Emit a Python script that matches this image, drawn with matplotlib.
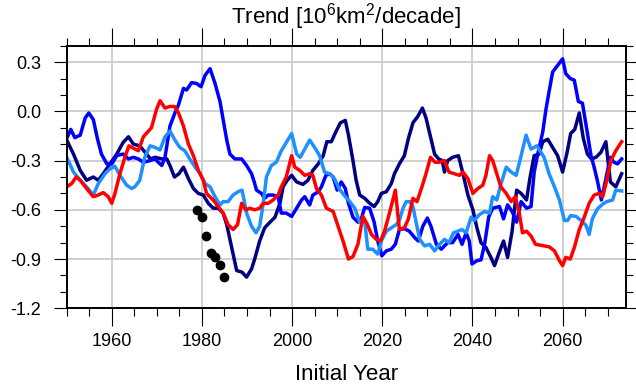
import matplotlib
matplotlib.use('Agg')
import matplotlib.pyplot as plt
from matplotlib.ticker import MultipleLocator, FormatStrFormatter

plt.rcParams['font.family'] = ['Liberation Sans', 'DejaVu Sans']
plt.rcParams['mathtext.default'] = 'regular'
plt.rcParams['axes.unicode_minus'] = False

# ---- data (initial year, trend) ----
navy_years = [1950, 1951.5, 1953, 1954.4, 1955.9, 1957, 1958.1, 1959.6, 1961.1, 1962.5,
              1963.7, 1964.8, 1966.2, 1967.7, 1968.6, 1969.6, 1971.1, 1972.2, 1972.9, 1973.9,
              1974.9, 1975.9, 1977, 1978.1, 1979.2, 1980.3, 1981.4, 1982.5, 1983.6, 1984.7,
              1985.5, 1986.6, 1987.7, 1988.9, 1989.9, 1991, 1991.7, 1992.8, 1993.9, 1995.1,
              1996.2, 1997.3, 1998, 1998.9, 1999.9, 2001, 2002.4, 2003.5, 2004.6, 2005.8,
              2006.9, 2007.7, 2008.7, 2009.7, 2010.7, 2011.8, 2012.5, 2013.5, 2014.2, 2015,
              2016.1, 2017.2, 2018.2, 2019, 2019.8, 2020.9, 2022, 2022.7, 2023.8, 2024.9,
              2025.8, 2026.8, 2027.9, 2028.9, 2029.7, 2030.7, 2031.6, 2032.5, 2033.3, 2033.8,
              2034.5, 2035.6, 2036.9, 2037.9, 2039, 2040.1, 2041, 2041.9, 2043, 2044.1,
              2044.9, 2045.8, 2046.9, 2047.8, 2048.8, 2049.8, 2050.8, 2052, 2052.8, 2053.7,
              2054.8, 2055.6, 2056.7, 2057.8, 2058.9, 2060, 2061, 2061.8, 2062.7, 2063.7,
              2064.6, 2065.5, 2066.4, 2067.4, 2068.5, 2069.6, 2070.6, 2071.8, 2073.1]
navy_vals = [-0.175, -0.26, -0.36, -0.42, -0.40, -0.42, -0.38, -0.32, -0.26, -0.19,
             -0.155, -0.20, -0.21, -0.26, -0.29, -0.28, -0.29, -0.29, -0.33, -0.40,
             -0.38, -0.34, -0.41, -0.47, -0.50, -0.51, -0.56, -0.59, -0.59, -0.62,
             -0.69, -0.83, -0.97, -0.98, -1.01, -0.96, -0.90, -0.79, -0.71, -0.675,
             -0.645, -0.56, -0.46, -0.42, -0.39, -0.43, -0.445, -0.42, -0.36, -0.32,
             -0.27, -0.185, -0.185, -0.125, -0.07, -0.055, -0.145, -0.30, -0.42, -0.51,
             -0.53, -0.56, -0.58, -0.55, -0.50, -0.49, -0.44, -0.38, -0.32, -0.27,
             -0.165, -0.07, -0.03, 0.02, -0.04, -0.155, -0.26, -0.29, -0.30, -0.37,
             -0.30, -0.28, -0.27, -0.38, -0.51, -0.60, -0.71, -0.80, -0.83, -0.89,
             -0.94, -0.87, -0.79, -0.89, -0.73, -0.48, -0.50, -0.54, -0.40, -0.27,
             -0.26, -0.185, -0.17, -0.22, -0.27, -0.37, -0.25, -0.135, -0.11, -0.01,
             -0.165, -0.26, -0.29, -0.28, -0.25, -0.185, -0.43, -0.46, -0.38]

blue_years = [1950, 1950.9, 1951.8, 1953, 1954.1, 1954.9, 1955.9, 1956.8, 1957.7, 1958.9,
              1960, 1961.1, 1962.5, 1963.7, 1964.8, 1965.9, 1967, 1968.5, 1969.6, 1970.3,
              1971.1, 1971.8, 1972.9, 1974, 1974.8, 1975.9, 1976.6, 1977.7, 1978.8, 1979.8,
              1980.7, 1981.8, 1982.9, 1984, 1984.7, 1985.5, 1986.2, 1987.3, 1988.8, 1989.9,
              1991, 1991.6, 1992.1, 1993.2, 1993.9, 1994.7, 1995.8, 1996.9, 1997.6, 1998.7,
              1999.9, 2001, 2002.1, 2002.8, 2003.9, 2004.6, 2005.8, 2006.5, 2007.5, 2008.3,
              2009.1, 2010, 2010.9, 2011.8, 2012.5, 2013.5, 2014.6, 2015.4, 2016.1, 2017.2,
              2018.2, 2019, 2019.9, 2020.9, 2022, 2022.9, 2023.8, 2024.9, 2026, 2027.2,
              2028, 2029, 2030, 2030.8, 2032, 2033.1, 2034.5, 2035.6, 2036.8, 2037.7,
              2038.6, 2039.3, 2039.9, 2041, 2041.9, 2042.7, 2043.6, 2044.5, 2046, 2046.9,
              2047.8, 2048.8, 2049.8, 2050.8, 2052, 2053, 2053.7, 2054.5, 2055.6, 2056.3,
              2057, 2057.8, 2058.9, 2060, 2060.7, 2061.7, 2062.6, 2063.5, 2064.4, 2065.4,
              2066.3, 2067, 2067.7, 2068.6, 2069.6, 2070.6, 2071.4, 2072.2, 2073.1]
blue_vals = [-0.165, -0.11, -0.16, -0.145, -0.04, -0.01, -0.05, -0.165, -0.26, -0.32,
             -0.32, -0.27, -0.26, -0.29, -0.28, -0.29, -0.31, -0.30, -0.29, -0.31,
             -0.33, -0.28, -0.09, -0.01, 0.04, 0.14, 0.13, 0.175, 0.17, 0.15,
             0.22, 0.26, 0.17, 0.06, -0.05, -0.175, -0.26, -0.29, -0.29, -0.33,
             -0.38, -0.43, -0.48, -0.50, -0.53, -0.51, -0.51, -0.52, -0.62, -0.62,
             -0.64, -0.59, -0.54, -0.52, -0.57, -0.51, -0.49, -0.46, -0.39, -0.38,
             -0.40, -0.48, -0.43, -0.47, -0.56, -0.645, -0.675, -0.65, -0.585, -0.59,
             -0.675, -0.79, -0.88, -0.85, -0.84, -0.81, -0.72, -0.715, -0.73, -0.77,
             -0.79, -0.70, -0.65, -0.70, -0.81, -0.84, -0.80, -0.80, -0.75, -0.81,
             -0.74, -0.79, -0.93, -0.91, -0.905, -0.81, -0.645, -0.59, -0.58, -0.655,
             -0.57, -0.61, -0.675, -0.55, -0.59, -0.58, -0.37, -0.26, -0.125, 0.01,
             0.12, 0.24, 0.28, 0.32, 0.23, 0.20, 0.19, 0.06, 0.05, -0.115,
             -0.27, -0.34, -0.42, -0.54, -0.41, -0.28, -0.31, -0.32, -0.29]

light_years = [1950, 1951.5, 1953, 1954.4, 1955.9, 1957, 1958.5, 1959.6, 1960.7, 1961.8,
               1963.3, 1964.4, 1965.1, 1966.2, 1967.3, 1968.5, 1969.6, 1970.7, 1971.8, 1972.9,
               1974, 1975.1, 1976.2, 1977.3, 1978.5, 1979.6, 1980.7, 1981.8, 1982.9, 1984,
               1984.7, 1985.8, 1986.9, 1988, 1988.9, 1989.9, 1991, 1992, 1992.8, 1993.6,
               1994.3, 1995.4, 1996.5, 1997.6, 1998.7, 1999.9, 2001, 2001.8, 2002.8, 2003.9,
               2005, 2006.1, 2007.2, 2008.3, 2009.4, 2010.4, 2011.5, 2012.8, 2013.9, 2015,
               2016.1, 2016.8, 2017.9, 2019, 2019.8, 2020.9, 2022, 2023.1, 2023.8, 2024.6,
               2025.3, 2026.1, 2026.8, 2027.5, 2028.3, 2029.4, 2030.5, 2031.6, 2032.7, 2033.8,
               2034.8, 2035.8, 2036.8, 2037.7, 2038.6, 2039.7, 2040.4, 2041.5, 2042.7, 2043.8,
               2044.5, 2045.4, 2046.3, 2047.5, 2048.6, 2049.7, 2050.8, 2051.9, 2053, 2054.3,
               2055.9, 2057, 2058.2, 2059.3, 2060.4, 2061.1, 2061.8, 2063, 2064.1, 2065.2,
               2065.9, 2066.6, 2067.7, 2068.9, 2069.8, 2071.1, 2071.8, 2073.1]
light_vals = [-0.28, -0.37, -0.42, -0.46, -0.51, -0.44, -0.38, -0.35, -0.335, -0.39,
              -0.45, -0.47, -0.46, -0.42, -0.28, -0.21, -0.22, -0.235, -0.155, -0.12,
              -0.175, -0.22, -0.24, -0.29, -0.34, -0.38, -0.44, -0.46, -0.52, -0.57,
              -0.55, -0.55, -0.51, -0.49, -0.48, -0.62, -0.70, -0.74, -0.70, -0.56,
              -0.40, -0.33, -0.31, -0.24, -0.19, -0.135, -0.26, -0.28, -0.23, -0.175,
              -0.22, -0.27, -0.37, -0.38, -0.41, -0.47, -0.51, -0.55, -0.59, -0.675,
              -0.67, -0.84, -0.84, -0.87, -0.79, -0.73, -0.71, -0.69, -0.665, -0.59,
              -0.55, -0.55, -0.58, -0.675, -0.78, -0.82, -0.81, -0.85, -0.81, -0.78,
              -0.80, -0.74, -0.73, -0.72, -0.74, -0.645, -0.665, -0.63, -0.61, -0.62,
              -0.52, -0.54, -0.445, -0.34, -0.37, -0.39, -0.27, -0.145, -0.23, -0.21,
              -0.28, -0.38, -0.46, -0.54, -0.665, -0.665, -0.635, -0.64, -0.665, -0.695,
              -0.75, -0.655, -0.595, -0.565, -0.55, -0.54, -0.48, -0.485]

red_years = [1950, 1951.1, 1952.1, 1953, 1954.4, 1955.9, 1957, 1958.1, 1959.2, 1960,
             1960.7, 1961.8, 1962.9, 1963.8, 1964.8, 1965.9, 1967, 1968.8, 1969.9, 1970.7,
             1971.8, 1972.9, 1973.9, 1974.8, 1975.9, 1977, 1978.1, 1979.2, 1980.3, 1981,
             1982.5, 1983.6, 1984.7, 1985.8, 1986.9, 1987.9, 1988.8, 1989.7, 1990.6, 1991.7,
             1992.8, 1993.6, 1994.7, 1995.8, 1996.9, 1997.6, 1998.7, 1999.9, 2000.6, 2001.7,
             2002.8, 2003.9, 2004.6, 2005.4, 2006.5, 2007.6, 2009.1, 2010.2, 2011.3, 2012.5,
             2013.5, 2014.6, 2015.7, 2016.7, 2017.6, 2018.7, 2019.6, 2020.5, 2021.6, 2022.9,
             2023.8, 2024.9, 2025.8, 2026.8, 2027.7, 2028.8, 2029.7, 2030.7, 2031.7, 2032.7,
             2033.8, 2034.8, 2036, 2037.1, 2037.9, 2039, 2040.1, 2041.2, 2042.3, 2043,
             2043.8, 2044.5, 2045.4, 2046.3, 2047.5, 2048.6, 2049.5, 2050.4, 2051.1, 2052,
             2053, 2054, 2055.9, 2057, 2058.2, 2059.3, 2060, 2060.7, 2061.7, 2062.6,
             2063.7, 2064.8, 2065.9, 2067, 2068.1, 2068.9, 2069.8, 2070.7, 2071.8, 2073.1]
red_vals = [-0.46, -0.44, -0.40, -0.42, -0.47, -0.52, -0.51, -0.495, -0.52, -0.56,
            -0.50, -0.38, -0.28, -0.21, -0.225, -0.24, -0.155, -0.10, 0.01, 0.065,
            0.02, 0.03, 0.03, -0.01, -0.09, -0.20, -0.27, -0.36, -0.42, -0.50,
            -0.54, -0.58, -0.62, -0.69, -0.72, -0.69, -0.56, -0.60, -0.59, -0.60,
            -0.59, -0.56, -0.56, -0.54, -0.51, -0.46, -0.40, -0.27, -0.34, -0.36,
            -0.39, -0.38, -0.39, -0.47, -0.51, -0.59, -0.61, -0.70, -0.79, -0.90,
            -0.885, -0.81, -0.64, -0.69, -0.75, -0.78, -0.79, -0.73, -0.62, -0.48,
            -0.72, -0.71, -0.655, -0.53, -0.55, -0.46, -0.38, -0.28, -0.31, -0.31,
            -0.30, -0.37, -0.38, -0.39, -0.37, -0.41, -0.50, -0.47, -0.45, -0.39,
            -0.27, -0.30, -0.38, -0.46, -0.50, -0.55, -0.52, -0.62, -0.74, -0.73,
            -0.76, -0.81, -0.82, -0.825, -0.85, -0.91, -0.94, -0.89, -0.90, -0.83,
            -0.72, -0.645, -0.56, -0.51, -0.50, -0.52, -0.42, -0.30, -0.24, -0.185]

obs_years = [1979, 1980, 1981, 1982, 1983, 1984, 1985]
obs_vals = [-0.60, -0.645, -0.757, -0.865, -0.89, -0.935, -1.01]

# ---- plot ----
fig = plt.figure(figsize=(6.36, 3.90), dpi=100)
ax = fig.add_axes([0.1049, 0.2095, 0.8789, 0.6733])

lw = 2.5
ax.plot(navy_years, navy_vals, color='#000080', lw=lw)
ax.plot(blue_years, blue_vals, color='#0000FF', lw=lw)
ax.plot(light_years, light_vals, color='#1E90FF', lw=lw)
ax.plot(red_years, red_vals, color='#FF0000', lw=lw)
ax.plot(obs_years, obs_vals, 'o', color='black', markersize=6, zorder=5)

ax.set_xlim(1950, 2074)
ax.set_ylim(-1.2, 0.4)
ax.set_xticks([1960, 1980, 2000, 2020, 2040, 2060])
ax.xaxis.set_minor_locator(MultipleLocator(5))
ax.set_yticks([-1.2, -0.9, -0.6, -0.3, 0.0, 0.3])
ax.yaxis.set_minor_locator(MultipleLocator(0.1))
ax.yaxis.set_major_formatter(FormatStrFormatter('%.1f'))

ax.grid(True, which='major', color='#c8c8c8', lw=1.2)
ax.set_axisbelow(True)

ax.tick_params(which='both', direction='out', top=True, right=True,
               labeltop=False, labelright=False, width=0.8, labelsize=13)
ax.tick_params(axis='x', which='major', length=13, pad=5)
ax.tick_params(axis='x', which='minor', length=6)
ax.tick_params(axis='y', which='major', length=9.5, pad=9)
ax.tick_params(axis='y', which='minor', length=5)
for s in ax.spines.values():
    s.set_linewidth(1.4)

ax.set_title('Trend [10$^6$km$^2$/decade]', fontsize=16, pad=16)
ax.set_xlabel('Initial Year', fontsize=16, labelpad=10)

fig.savefig('out.png', dpi=100)
